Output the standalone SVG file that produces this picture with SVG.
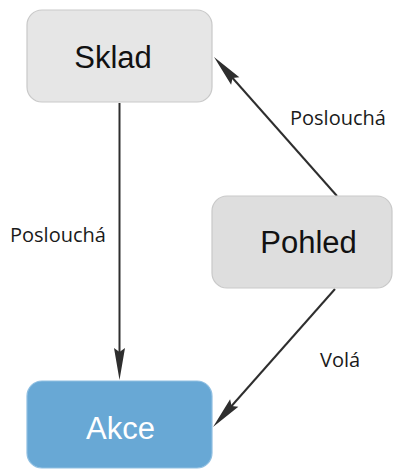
<svg xmlns="http://www.w3.org/2000/svg" width="393" height="469" viewBox="0 0 393 469">
  <style>
    .box { fill: #e6e6e6; stroke: #c9c9c9; stroke-width: 1.2; }
    .box.view { fill: #dedede; }
    .box.action { fill: #68a8d5; stroke: #8fbfe2; }
    .title { font-family: "Liberation Sans", Arial, sans-serif; font-size: 31px; fill: #111; text-anchor: middle; }
    .title.light { fill: #ffffff; }
    .edge { fill: none; stroke: #2e2e2e; stroke-width: 2; }
    .label { font-family: "Open Sans", "Noto Sans", sans-serif; font-size: 20px; fill: #1a1a1a; }
  </style>
  <defs>
    <marker id="arrow" markerUnits="userSpaceOnUse" markerWidth="40" markerHeight="14" refX="10" refY="6" orient="auto" overflow="visible">
      <path d="M0,0.5 L32,6 L0,11.5 L4,6 Z" fill="#2e2e2e"/>
    </marker>
  </defs>

  <g id="connectors">
    <path class="edge" d="M119.5,103 L119.5,358" marker-end="url(#arrow)"/>
    <path class="edge" d="M337,196 L228.6,73.5" marker-end="url(#arrow)"/>
    <path class="edge" d="M335,289 L227.6,410.5" marker-end="url(#arrow)"/>
    <text class="label" x="10" y="242">Poslouchá</text>
    <text class="label" x="290" y="125">Poslouchá</text>
    <text class="label" x="320" y="367">Volá</text>
  </g>

  <g id="sklad">
    <rect class="box" x="27" y="10" width="185" height="92" rx="15"/>
    <text class="title" x="113" y="68">Sklad</text>
  </g>

  <g id="pohled">
    <rect class="box view" x="212" y="196" width="180" height="92" rx="15"/>
    <text class="title" x="308.5" y="253">Pohled</text>
  </g>

  <g id="akce">
    <rect class="box action" x="27" y="381" width="185" height="87" rx="15"/>
    <text class="title light" x="120.5" y="439">Akce</text>
  </g>
</svg>
